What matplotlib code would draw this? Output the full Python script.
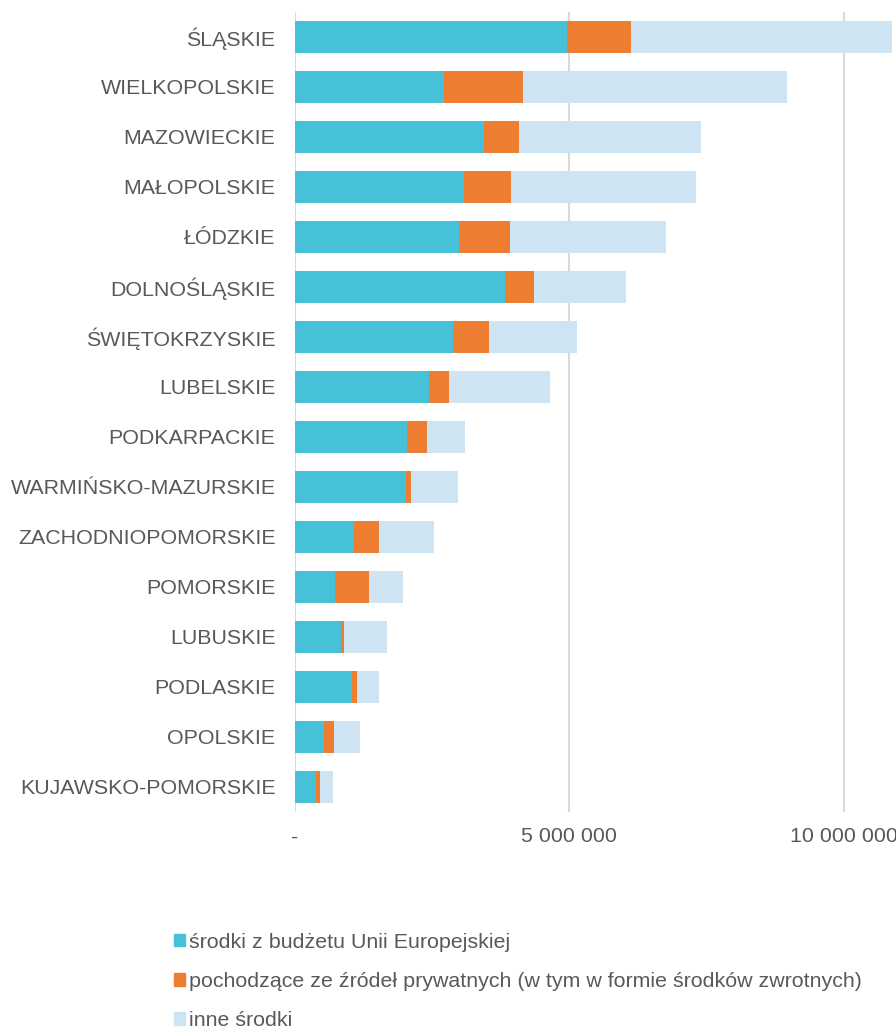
import numpy as np
import matplotlib
matplotlib.use('Agg')
import matplotlib.pyplot as plt
from matplotlib.patches import Patch

plt.rcParams['font.family'] = ['Liberation Sans', 'DejaVu Sans']

# regions, top to bottom
regions = ['ŚLĄSKIE', 'WIELKOPOLSKIE', 'MAZOWIECKIE', 'MAŁOPOLSKIE', 'ŁÓDZKIE',
           'DOLNOŚLĄSKIE', 'ŚWIĘTOKRZYSKIE', 'LUBELSKIE', 'PODKARPACKIE',
           'WARMIŃSKO-MAZURSKIE', 'ZACHODNIOPOMORSKIE', 'POMORSKIE', 'LUBUSKIE',
           'PODLASKIE', 'OPOLSKIE', 'KUJAWSKO-POMORSKIE']

# values in PLN
eu_funds = np.array([4.95, 2.71, 3.45, 3.08, 2.99, 3.83, 2.88, 2.45, 2.05,
                     2.02, 1.08, 0.73, 0.83, 1.04, 0.53, 0.38]) * 1e6
private_funds = np.array([1.17, 1.45, 0.64, 0.85, 0.92, 0.53, 0.66, 0.35, 0.36,
                          0.10, 0.45, 0.62, 0.07, 0.09, 0.18, 0.08]) * 1e6
other_funds = np.array([4.77, 4.81, 3.31, 3.38, 2.86, 1.68, 1.60, 1.84, 0.68,
                        0.85, 1.01, 0.62, 0.78, 0.41, 0.48, 0.23]) * 1e6

series_labels = ['środki z budżetu Unii Europejskiej',
                 'pochodzące ze źródeł prywatnych (w tym w formie środków zwrotnych)',
                 'inne środki']
colors = ['#47C1D8', '#ED7D31', '#CFE4F3']
xticks = [0, 5e6, 10e6]
xtick_labels = ['-', '5 000 000', '10 000 000']

text_color = '#595959'
fs = 15.4

fig = plt.figure(figsize=(8.96, 10.30), dpi=100)
ax = fig.add_axes([295 / 896, 218 / 1030, 598 / 896, 800 / 1030])

y = np.arange(len(regions))
h = 0.64
ax.barh(y, eu_funds, height=h, color=colors[0], zorder=3)
ax.barh(y, private_funds, left=eu_funds, height=h, color=colors[1], zorder=3)
ax.barh(y, other_funds, left=eu_funds + private_funds, height=h, color=colors[2], zorder=3)

ax.set_ylim(len(regions) - 0.5, -0.5)
ax.set_xlim(0, 10.9e6)
ax.set_yticks(y)
ax.set_yticklabels(regions, fontsize=fs, color=text_color)
ax.set_xticks(xticks)
ax.set_xticklabels(xtick_labels, fontsize=fs, color=text_color)
ax.tick_params(axis='both', length=0)
ax.tick_params(axis='y', pad=14)
ax.tick_params(axis='x', pad=11)
for s in ax.spines.values():
    s.set_visible(False)
ax.grid(axis='x', color='#D9D9D9', linewidth=1.5, zorder=0)

handles = [Patch(color=c) for c in colors]
leg = fig.legend(handles, series_labels, loc='upper left',
                 bbox_to_anchor=(165 / 896, 1 - 924 / 1030), frameon=False,
                 fontsize=fs, labelspacing=0.95, handlelength=0.55,
                 handleheight=0.55, handletextpad=0.15, borderaxespad=0)
for t in leg.get_texts():
    t.set_color(text_color)

fig.savefig('out.png', dpi=100)
